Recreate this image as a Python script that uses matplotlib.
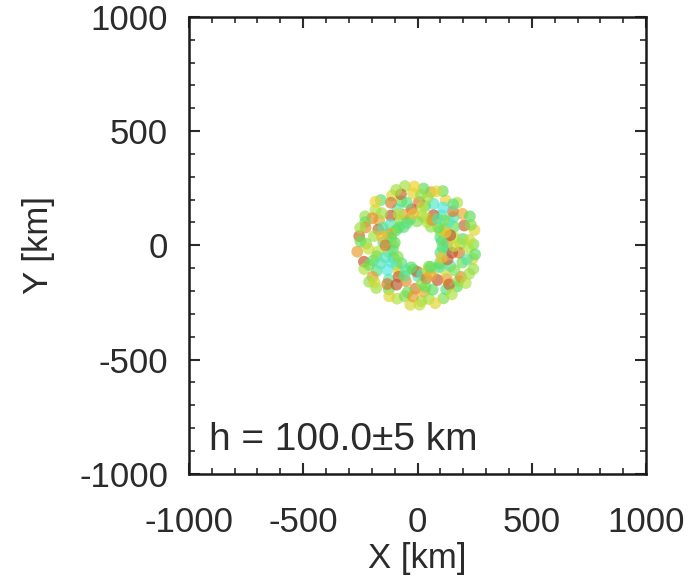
import numpy as np
import matplotlib
matplotlib.use("Agg")
import matplotlib.pyplot as plt
from matplotlib.colors import LinearSegmentedColormap
from matplotlib.ticker import MultipleLocator

# particle positions in polar form: angle (deg), radius (km), colour value
theta_deg = [
    1, 4, 8, 12, 15, 19, 23, 27, 31, 35, 38, 6, 17, 29, 33, 10, 25, 37, 2, 21,
    41, 44, 47, 51, 54, 58, 62, 65, 69, 73, 76, 79, 43, 56, 67, 71, 49, 60, 78, 53,
    81, 84, 88, 91, 95, 99, 102, 106, 110, 113, 117, 119, 86, 97, 108, 115, 83, 93, 104, 111,
    122, 125, 129, 132, 136, 140, 143, 147, 151, 154, 158, 127, 138, 149, 156, 121, 134, 145, 159, 153,
    161, 164, 168, 171, 175, 178, 182, 186, 189, 193, 197, 199, 166, 176, 184, 191, 163, 180, 195, 173,
    201, 204, 208, 212, 215, 219, 223, 226, 230, 234, 237, 206, 217, 228, 239, 202, 213, 221, 232, 210,
    242, 245, 249, 252, 256, 260, 263, 267, 271, 274, 278, 247, 258, 269, 276, 241, 254, 265, 279, 272,
    282, 285, 289, 292, 296, 300, 303, 307, 311, 314, 318, 287, 298, 309, 316, 281, 294, 305, 319, 301,
    321, 324, 328, 331, 335, 339, 342, 346, 350, 353, 357, 326, 337, 348, 355, 322, 333, 344, 359, 351,
]
radius_km = [
    245, 130, 200, 165, 258, 105, 222, 180, 140, 240, 200, 228, 150, 262, 118, 108, 135, 170, 188, 250,
    120, 215, 255, 170, 100, 232, 150, 262, 195, 125, 240, 175, 160, 200, 110, 250, 238, 128, 215, 145,
    130, 250, 190, 105, 228, 160, 265, 118, 205, 145, 245, 180, 222, 138, 235, 108, 168, 258, 192, 260,
    220, 135, 255, 175, 112, 240, 150, 200, 262, 125, 185, 100, 210, 230, 250, 160, 265, 115, 140, 170,
    240, 120, 195, 258, 150, 225, 105, 265, 175, 130, 245, 205, 160, 250, 215, 110, 262, 140, 185, 100,
    150, 255, 118, 210, 240, 170, 125, 260, 195, 140, 230, 180, 265, 105, 160, 228, 135, 248, 215, 100,
    195, 120, 250, 165, 230, 108, 262, 190, 135, 245, 205, 145, 210, 115, 170, 255, 100, 225, 128, 260,
    240, 150, 205, 118, 258, 175, 230, 128, 195, 250, 160, 265, 105, 220, 135, 185, 142, 262, 238, 110,
    125, 235, 170, 258, 145, 210, 105, 248, 185, 130, 222, 195, 265, 155, 110, 268, 118, 225, 160, 255,
]
value = [
    .55, .82, .5, .62, .7, .45, .88, .52, .6, .78, .42, .66, .9, .5, .58, .48, .75, .38, .6, .55,
    .5, .85, .62, .4, .58, .72, .9, .52, .38, .65, .8, .48, .55, .35, .62, .7, .45, .82, .6, .42,
    .62, .5, .85, .55, .7, .9, .6, .45, .52, .8, .68, .4, .58, .75, .88, .5, .64, .72, .46, .6,
    .85, .55, .48, .9, .5, .62, .4, .78, .58, .7, .88, .45, .6, .82, .52, .66, .72, .5, .8, .42,
    .82, .5, .6, .88, .45, .55, .7, .8, .62, .58, .9, .48, .75, .52, .66, .42, .6, .85, .55, .5,
    .38, .62, .5, .45, .8, .35, .55, .6, .42, .7, .5, .4, .58, .48, .88, .52, .36, .66, .85, .55,
    .9, .4, .62, .82, .55, .5, .68, .85, .38, .6, .78, .45, .52, .88, .58, .7, .48, .8, .42, .65,
    .6, .85, .5, .72, .55, .9, .45, .62, .8, .5, .66, .7, .58, .88, .4, .52, .78, .62, .56, .48,
    .5, .82, .4, .6, .88, .52, .45, .7, .85, .38, .62, .55, .58, .9, .48, .62, .75, .42, .66, .5,
]

th = np.deg2rad(theta_deg)
x = np.array(radius_km) * np.cos(th)
y = np.array(radius_km) * np.sin(th)

plt.rcParams["font.family"] = ["Liberation Sans", "DejaVu Sans"]
plt.rcParams["axes.unicode_minus"] = False
text_color = "#2b2b2b"

# cyan -> green -> yellow -> orange -> brownish red
cmap = LinearSegmentedColormap.from_list(
    "ring",
    [(0.0, "#52e8e4"), (0.27, "#5cdf5c"), (0.5, "#b4e23c"),
     (0.68, "#f0d230"), (0.85, "#e8902c"), (1.0, "#c0562a")],
)

fig = plt.figure(figsize=(6.97, 5.80), dpi=100)
ax = fig.add_axes([0.271, 0.183, 0.656, 0.788])

ax.scatter(x, y, c=value, cmap=cmap, vmin=0.35, vmax=0.9, s=72,
           edgecolors="none", alpha=0.68)

ax.set_xlim(-1000, 1000)
ax.set_ylim(-1000, 1000)
ax.xaxis.set_major_locator(MultipleLocator(500))
ax.yaxis.set_major_locator(MultipleLocator(500))
ax.xaxis.set_minor_locator(MultipleLocator(100))
ax.yaxis.set_minor_locator(MultipleLocator(100))
ax.tick_params(which="both", direction="in", top=True, right=True,
               colors=text_color, labelsize=25)
ax.tick_params(which="major", length=8, width=1.5)
ax.tick_params(which="minor", length=4, width=1.2)
ax.tick_params(axis="x", pad=23)
ax.tick_params(axis="y", pad=15)
for sp in ax.spines.values():
    sp.set_linewidth(1.8)
    sp.set_color("#1a1a1a")

ax.set_xlabel("X [km]", fontsize=25, color=text_color, labelpad=2)
ax.set_ylabel("Y [km]", fontsize=25, color=text_color, labelpad=17)

ax.text(-910, -850, "h = 100.0\u00b15 km", fontsize=28, color=text_color,
        va="center", ha="left")

fig.savefig("out.png", dpi=100)
